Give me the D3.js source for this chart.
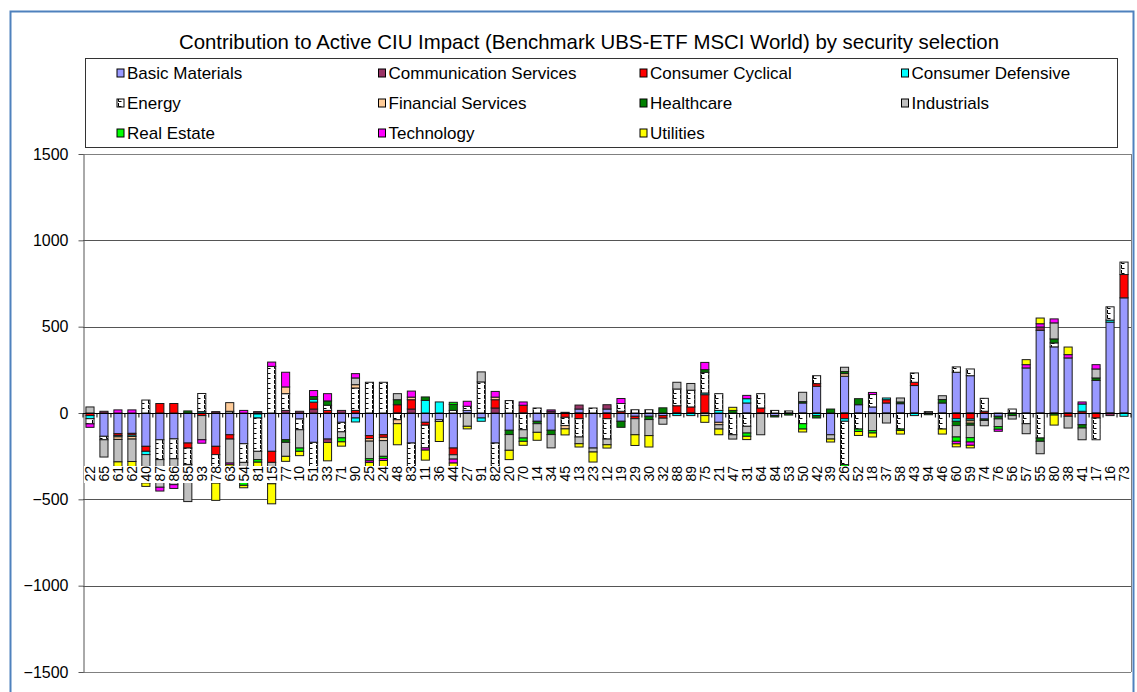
<!DOCTYPE html>
<html lang="en">
  <head>
    <meta charset="utf-8"/>
    <script src="https://d3js.org/d3.v7.min.js"></script>
    <style>
      body { margin: 0; background: #fff; }
      text { font-family: "Liberation Sans", Arial, sans-serif; fill: #000; }
    </style>
  </head>
  <body>
    <svg class="chart" width="1137" height="692"></svg>
  </body>
  <script>
    const categories = ["22","65","61","62","40","87","86","85","93","78","63","54","81","15","77","10","51","33","71","90",
      "25","24","48","83","11","36","44","27","91","82","20","70","14","34","45","13","23","12","19","29",
      "30","32","88","89","75","21","47","31","64","84","53","50","42","39","26","52","18","37","58","43",
      "94","46","60","59","74","76","56","57","55","80","38","41","17","16","73"];

    const basicMaterials = [0,-135,-120,-118,-193,-155,-150,-174,0,-193, -126,-178,-6,-222,-155,-35,-170,-151,-54,-29,
      -131,-126,0,-174,-54,-39,-203,15,-29,-174, -100,0,-48,-100,4,23,-203,23,-48,-19,
      -19,-15,0,0,0,-54,0,58,0,-15, 0,58,155,-126,213,48,35,58,54,159,
      0,58,236,216,-35,-19,0,261,479,383, 319,-68,189,526,667];
    const communication = [0,10,0,0,0,0,0,0,0,8, 0,0,8,0,15,10,23,-20,15,0,
      0,0,0,23,0,0,0,0,0,29, 0,0,0,10,0,23,0,25,0,0,
      0,0,0,0,0,0,0,0,0,0, 0,0,0,0,0,0,0,0,0,0,
      0,0,0,0,0,0,0,0,19,0, 0,0,0,-15,0];
    const consumerCyclical = [-15,0,-10,-10,-29,55,55,-29,-15,-48, -25,0,0,-64,0,0,40,15,0,15,
      -17,-15,48,54,-17,0,-39,0,0,48, 0,45,0,0,-25,-33,0,-33,10,-14,
      0,-15,42,35,106,0,0,0,29,0, 0,0,15,0,-33,0,0,19,0,19,
      0,0,-33,-35,10,0,0,0,0,0, -19,10,-29,0,135];
    const consumerDefensive = [-18,0,-8,-8,-19,0,0,0,8,0, 0,0,-23,0,0,0,17,0,0,-23,
      0,0,0,0,73,64,0,0,-19,0, 0,0,0,0,0,0,0,0,0,0,
      0,0,-15,-15,10,15,0,25,0,0, 0,0,-15,0,-15,0,0,10,0,-15,
      0,0,-15,-10,0,0,0,0,0,0, 0,42,0,12,-19];
    const energy = [-30,-20,0,0,75,-115,-115,-95,105,-100, 10,-108,-193,270,97,-62,-140,30,-55,130,
      178,178,-39,-145,-131,-10,15,24,180,-145, 72,-97,29,0,-48,-106,29,-118,45,19,
      19,0,97,97,120,97,-126,-77,83,15, 12,-62,46,0,-251,-93,72,0,-93,54,
      8,-93,31,39,75,0,23,-62,-145,23, 0,0,-126,77,72];
    const financial = [0,0,-15,-15,0,0,0,0,0,0, 50,0,0,0,39,0,0,0,0,19,
      -15,-19,-23,15,0,0,0,0,0,15, 0,0,0,0,-19,0,0,0,0,0,
      0,0,0,0,0,-14,0,0,0,0, 0,0,0,0,15,0,0,0,0,0,
      0,0,0,-14,0,0,0,0,0,0, 0,0,0,0,0];
    const healthcare = [0,0,0,0,0,0,0,12,0,0, 0,0,0,0,-15,0,15,25,0,0,
      0,0,29,0,20,0,35,0,0,0, -25,0,-14,-25,0,0,0,0,-35,0,
      -19,30,0,0,15,0,15,0,0,-8, -12,8,-14,23,12,35,0,0,10,0,
      -10,20,-25,-12,-8,-15,-15,0,-19,23, 0,-19,14,0,0];
    const industrials = [35,-100,-130,-130,-164,-160,-150,-215,-140,-65, -139,-105,-48,-124,-81,-106,0,0,-35,39,
      -102,-91,35,0,0,0,-25,-77,58,0, -91,-48,-50,-77,0,-39,-23,-33,0,-93,
      -93,-35,39,39,-15,-25,-25,-39,-126,0, 0,54,0,-25,25,0,-102,-58,23,0,
      0,22,-66,-72,-31,-45,-20,-58,-72,93, -68,-68,52,0,0];
    const realEstate = [0,0,0,0,0,0,0,0,0,0, 0,-28,-15,0,0,-19,0,0,-23,0,
      -12,-12,0,0,0,0,12,0,0,0, 0,-19,0,0,0,0,0,0,0,0,
      0,0,0,0,0,0,0,-19,0,0, 0,-31,0,0,-25,-14,-14,0,-8,0,
      0,0,-25,-25,0,-15,0,0,0,-12, 0,0,0,0,0];
    const technology = [-20,0,18,18,0,-22,-22,0,-20,0, -10,15,0,25,85,0,35,42,0,25,
      -10,-12,0,35,-13,0,-23,29,0,33, 0,19,0,8,0,0,0,0,29,0,
      0,0,0,0,42,0,0,19,0,0, 0,0,0,0,0,0,12,0,0,0,
      0,0,-15,-19,0,-12,0,19,19,23, 19,12,25,0,0];
    const utilities = [0,0,-38,-38,-20,0,0,0,0,-100, -15,-14,-35,-116,-29,-25,0,-106,-25,0,
      -35,-48,-122,0,-58,-116,-35,-15,0,0, -54,-23,-46,0,-35,-19,-58,-19,0,-62,
      -66,0,0,0,-39,-33,18,-19,0,0, 0,-17,0,-17,0,-23,-23,0,-21,0,
      0,-29,-17,-15,0,0,0,29,33,-58, 44,0,0,0,0];

    const seriesNames = ["Basic Materials","Communication Services","Consumer Cyclical","Consumer Defensive",
      "Energy","Financial Services","Healthcare","Industrials","Real Estate","Technology","Utilities"];
    const seriesValues = [basicMaterials, communication, consumerCyclical, consumerDefensive, energy,
      financial, healthcare, industrials, realEstate, technology, utilities];
    const seriesColors = ["#9999ff","#993366","#ff0000","#00ffff","url(#energyPat)","#ffcc99",
      "#008000","#c0c0c0","#00ff00","#ff00ff","#ffff00"];
    const yTicks = [-1500,-1000,-500,0,500,1000,1500];

    const chartTitle = "Contribution to Active CIU Impact (Benchmark UBS-ETF MSCI World) by security selection";

    const svg = d3.select(".chart");
    const plotLeft = 83, plotRight = 1131, plotTop = 154, plotBottom = 672;

    // energy hatch
    const pat = svg.append("defs").append("pattern")
      .attr("id", "energyPat")
      .attr("patternUnits", "userSpaceOnUse")
      .attr("width", 7).attr("height", 5);
    pat.append("rect").attr("width", 7).attr("height", 5).attr("fill", "#fff");
    pat.append("path").attr("d", "M1.5,0V3.5H4.5").attr("stroke", "#000").attr("fill", "none");

    // outer frame
    svg.append("rect")
      .attr("x", 10.5).attr("y", 11.5).attr("width", 1123).attr("height", 700)
      .attr("fill", "none").attr("stroke", "#4f81bd").attr("stroke-width", 2);

    svg.append("text")
      .attr("x", 589).attr("y", 49)
      .attr("text-anchor", "middle")
      .style("font-size", "20.4px")
      .text(chartTitle);

    const table = categories.map(function(c, i) {
      let row = {cat: c};
      seriesNames.forEach(function(s, j) { row[s] = seriesValues[j][i]; });
      return row;
    });

    const x = d3.scaleBand()
      .domain(categories)
      .range([plotLeft, plotRight])
      .paddingInner(0.42)
      .paddingOuter(0.21);

    const y = d3.scaleLinear()
      .domain([-1500, 1500])
      .range([plotBottom, plotTop]);

    // gridlines
    svg.append("g")
      .selectAll("line")
      .data(yTicks.filter(function(d) { return d !== 0; }))
      .enter().append("line")
        .attr("x1", plotLeft).attr("x2", plotRight)
        .attr("y1", function(d) { return Math.round(y(d)) + 0.5; })
        .attr("y2", function(d) { return Math.round(y(d)) + 0.5; })
        .attr("stroke", function(d) { return Math.abs(d) === 1500 ? "#808080" : "#555"; });

    svg.append("line")
      .attr("x1", plotRight + 0.5).attr("x2", plotRight + 0.5)
      .attr("y1", plotTop).attr("y2", plotBottom)
      .attr("stroke", "#808080");

    // y axis
    const yAxis = d3.axisLeft(y)
      .tickValues(yTicks)
      .tickFormat(d3.format("d"))
      .tickSize(5)
      .tickSizeOuter(0)
      .tickPadding(10);
    const yg = svg.append("g")
      .attr("transform", "translate(" + (plotLeft + 0.5) + ",0)")
      .call(yAxis);
    yg.select(".domain").attr("stroke", "#555");
    yg.selectAll(".tick line").attr("stroke", "#555");
    yg.selectAll("text")
      .style("font-size", "16px")
      .style("font-family", "'Liberation Sans', Arial, sans-serif")
      .attr("fill", "#000");

    const stack = d3.stack()
      .keys(seriesNames)
      .offset(d3.stackOffsetDiverging);
    const layers = stack(table);

    const groups = svg.append("g")
      .selectAll("g")
      .data(layers)
      .enter().append("g")
        .attr("fill", function(d, i) { return seriesColors[i]; });

    groups.selectAll("rect")
      .data(function(d) { return d.filter(function(p) { return p[1] !== p[0]; }); })
      .enter().append("rect")
        .attr("x", function(d) { return x(d.data.cat); })
        .attr("width", x.bandwidth())
        .attr("y", function(d) { return y(d[1]); })
        .attr("height", function(d) { return y(d[0]) - y(d[1]); })
        .attr("stroke", "#1a1a1a")
        .attr("stroke-width", 1);

    // category axis at zero
    const zeroY = Math.round(y(0)) + 0.5;
    svg.append("line")
      .attr("x1", plotLeft).attr("x2", plotRight)
      .attr("y1", zeroY).attr("y2", zeroY)
      .attr("stroke", "#000");

    svg.append("g")
      .selectAll("line")
      .data(d3.range(categories.length + 1))
      .enter().append("line")
        .attr("x1", function(i) { return plotLeft + i * x.step(); })
        .attr("x2", function(i) { return plotLeft + i * x.step(); })
        .attr("y1", zeroY).attr("y2", zeroY + 4)
        .attr("stroke", "#000");

    const labels = svg.append("g")
      .selectAll("g")
      .data(categories)
      .enter().append("g")
        .attr("transform", function(d) {
          return "translate(" + (x(d) + x.bandwidth() / 2) + ",466)";
        });
    labels.append("rect")
      .attr("x", -6).attr("y", 0)
      .attr("width", 12).attr("height", 17)
      .attr("fill", "#fff");
    labels.append("text")
      .attr("transform", "rotate(-90)")
      .attr("text-anchor", "end")
      .attr("dy", "0.35em")
      .style("font-size", "14px")
      .attr("fill", "#333")
      .text(function(d) { return d; });

    // legend
    svg.append("rect")
      .attr("x", 85.5).attr("y", 58.5)
      .attr("width", 1032).attr("height", 89)
      .attr("fill", "#fff")
      .attr("stroke", "#333");

    const legend = svg.append("g")
      .selectAll("g")
      .data(seriesNames)
      .enter().append("g")
        .attr("transform", function(d, i) {
          return "translate(" + (117 + (i % 4) * 261.5) + "," + (73 + Math.floor(i / 4) * 30) + ")";
        });
    legend.append("rect")
      .attr("x", 0).attr("y", -4)
      .attr("width", 7).attr("height", 8)
      .attr("fill", function(d, i) { return seriesColors[i]; })
      .attr("stroke", "#000");
    legend.append("text")
      .attr("x", 10)
      .attr("dy", "0.35em")
      .style("font-size", "17px")
      .text(function(d) { return d; });
  </script>
</html>
